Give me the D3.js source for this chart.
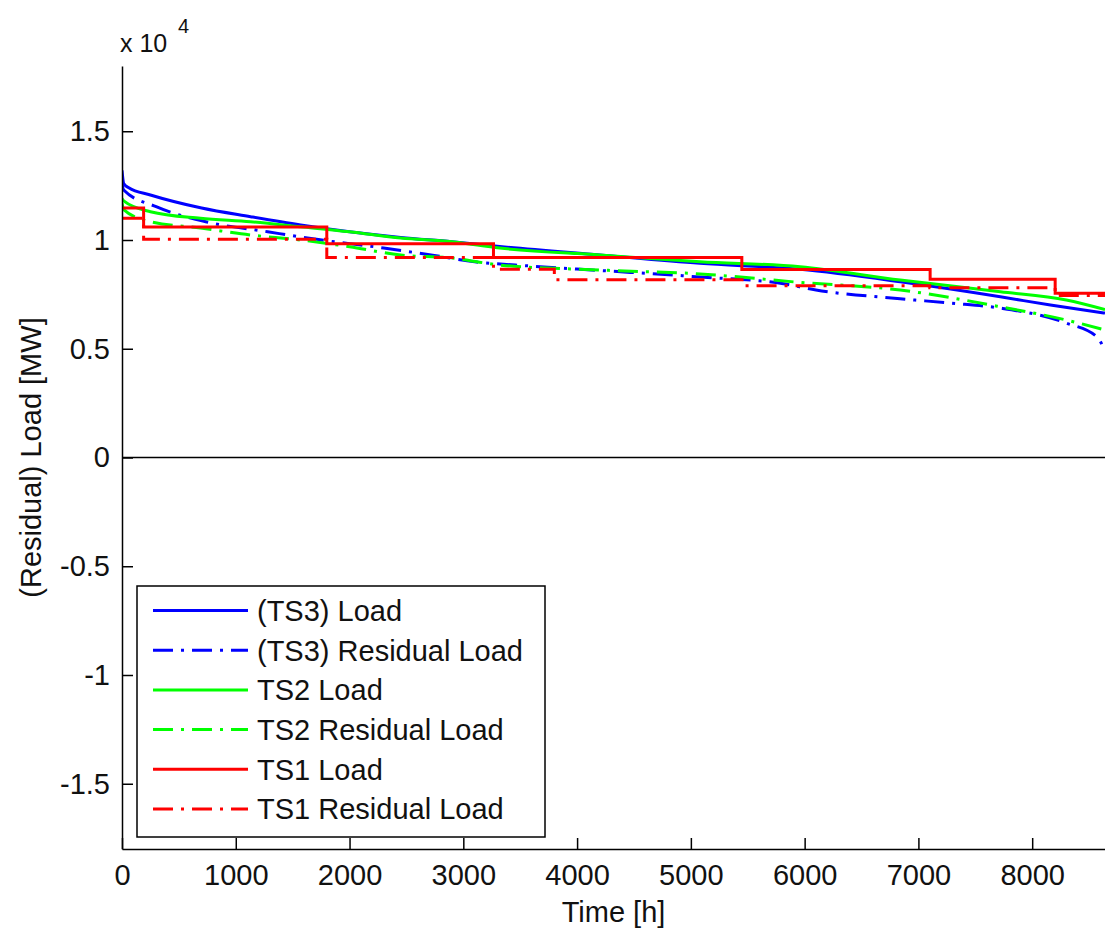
<!DOCTYPE html>
<html>
<head>
<meta charset="utf-8">
<script src="https://cdn.jsdelivr.net/npm/d3@7"></script>
<style>
  body { margin: 0; background: #fff; }
  svg { display: block; font-family: "Liberation Sans", Arial, sans-serif; }
</style>
</head>
<body>
<script>
var WIDTH = 1105,
    HEIGHT = 930;

// load duration curves, hours vs MW
var ts3LoadHours = [0, 15, 60, 250, 700, 1130, 1570, 2000, 2450, 2900, 3320, 4200, 5080, 5960, 6840, 7720, 8160, 8640];
var ts3LoadValues = [13200, 12600, 12400, 12070, 11470, 11070, 10690, 10380, 10120, 9920, 9700, 9310, 8930, 8650, 8080, 7390, 7010, 6640];

var ts3ResHours = [0, 15, 300, 735, 1280, 1630, 2300, 2730, 3100, 3600, 4200, 5080, 5800, 6100, 6840, 7280, 7720, 8300, 8570, 8640];
var ts3ResValues = [12600, 12300, 11530, 10840, 10380, 10090, 9630, 9300, 9000, 8800, 8600, 8300, 8000, 7700, 7300, 7100, 6870, 6180, 5540, 4900];

var ts2LoadHours = [0, 15, 250, 690, 1130, 1570, 2000, 2450, 2900, 3320, 4200, 5080, 5960, 6840, 7720, 8300, 8640];
var ts2LoadValues = [11900, 11800, 11300, 11000, 10840, 10610, 10380, 10090, 9920, 9630, 9310, 9000, 8770, 8160, 7620, 7240, 6800];

var ts2ResHours = [0, 15, 250, 690, 1130, 1570, 2000, 2450, 2900, 3320, 4200, 5080, 5960, 6840, 7720, 8300, 8640];
var ts2ResValues = [11700, 11400, 10840, 10550, 10230, 10000, 9690, 9310, 9170, 8850, 8620, 8440, 8050, 7700, 6930, 6320, 5860];

// TS1 is a step function: start hour of each step and its level
var ts1LoadHours = [0, 190, 1800, 3265, 5448, 7103, 8202, 8640];
var ts1LoadValues = [11470, 10600, 9830, 9200, 8640, 8200, 7550, 7550];

var ts1ResHours = [0, 190, 1800, 3265, 3800, 5450, 7100, 8202, 8640];
var ts1ResValues = [11000, 10030, 9200, 8650, 8170, 7900, 7800, 7450, 7450];

var xTicks = [0, 1000, 2000, 3000, 4000, 5000, 6000, 7000, 8000];
var yTicks = [-15000, -10000, -5000, 0, 5000, 10000, 15000];

var seriesNames = ["(TS3) Load", "(TS3) Residual Load", "TS2 Load", "TS2 Residual Load", "TS1 Load", "TS1 Residual Load"];
var seriesColors = ["#0000ff", "#0000ff", "#00ff00", "#00ff00", "#ff0000", "#ff0000"];

var series = [
  {hours: ts3LoadHours, values: ts3LoadValues, step: false, dash: false},
  {hours: ts3ResHours, values: ts3ResValues, step: false, dash: true},
  {hours: ts2LoadHours, values: ts2LoadValues, step: false, dash: false},
  {hours: ts2ResHours, values: ts2ResValues, step: false, dash: true},
  {hours: ts1LoadHours, values: ts1LoadValues, step: true, dash: false},
  {hours: ts1ResHours, values: ts1ResValues, step: true, dash: true}
];

var DASHDOT = "20,8,3,8";

// plot box (window.top is taken, so own names)
var plotL = 122, plotR = 1105, plotT = 66, plotB = 849;

var x = d3.scaleLinear().domain([0, 8640]).range([plotL, plotR]);
var y = d3.scaleLinear().domain([-18000, 18000]).range([plotB, plotT]);

var svg = d3.select("body").append("svg")
    .attr("width", WIDTH)
    .attr("height", HEIGHT);

svg.append("clipPath").attr("id", "plot")
  .append("rect")
    .attr("x", plotL).attr("y", plotT)
    .attr("width", plotR - plotL).attr("height", plotB - plotT);

// zero line
svg.append("line")
    .attr("x1", plotL).attr("x2", plotR)
    .attr("y1", y(0)).attr("y2", y(0))
    .attr("stroke", "#000")
    .attr("stroke-width", 1.3);

var g = svg.append("g").attr("clip-path", "url(#plot)");

series.forEach(function(s, i){
  var pts = s.hours.map(function(h, j){ return [h, s.values[j]]; });
  var line = d3.line()
    .x(function(d){ return x(d[0]); })
    .y(function(d){ return y(d[1]); })
    .curve(s.step ? d3.curveStepAfter : d3.curveMonotoneX);
  g.append("path")
    .attr("d", line(pts))
    .attr("fill", "none")
    .attr("stroke", seriesColors[i])
    .attr("stroke-width", 3)
    .attr("stroke-dasharray", s.dash ? DASHDOT : null);
});

// axes
var fmt = function(v){ return String(v / 10000); };

var xAxis = svg.append("g")
    .attr("transform", "translate(0," + plotB + ")")
    .call(d3.axisBottom(x).tickValues(xTicks).tickFormat(d3.format("d"))
      .tickSizeInner(-11).tickSizeOuter(0).tickPadding(15));

var yAxis = svg.append("g")
    .attr("transform", "translate(" + plotL + ",0)")
    .call(d3.axisLeft(y).tickValues(yTicks).tickFormat(fmt)
      .tickSizeInner(-11).tickSizeOuter(0).tickPadding(12));

[xAxis, yAxis].forEach(function(a){
  a.select(".domain").attr("stroke", "#000").attr("stroke-width", 1.5);
  a.selectAll(".tick line").attr("stroke", "#000").attr("stroke-width", 1.5);
  a.selectAll(".tick text")
    .attr("fill", "#111")
    .style("font-size", "29px")
    .style("font-family", "'Liberation Sans', Arial, sans-serif");
});

// exponent label
svg.append("text")
    .attr("x", 120).attr("y", 52)
    .attr("fill", "#111")
    .style("font-size", "25px")
    .text("x 10");
svg.append("text")
    .attr("x", 178).attr("y", 33)
    .attr("fill", "#111")
    .style("font-size", "20px")
    .text("4");

// axis titles
svg.append("text")
    .attr("x", (plotL + plotR) / 2).attr("y", 922)
    .attr("text-anchor", "middle")
    .attr("fill", "#111")
    .style("font-size", "29px")
    .text("Time [h]");

svg.append("text")
    .attr("transform", "translate(41," + ((plotT + plotB) / 2) + ") rotate(-90)")
    .attr("text-anchor", "middle")
    .attr("fill", "#111")
    .style("font-size", "29px")
    .text("(Residual) Load [MW]");

// legend
var legend = svg.append("g");
legend.append("rect")
    .attr("x", 137).attr("y", 586)
    .attr("width", 408).attr("height", 251)
    .attr("fill", "#fff")
    .attr("stroke", "#000")
    .attr("stroke-width", 1.5);

seriesNames.forEach(function(name, i){
  var cy = 610.5 + i * 39.7;
  legend.append("line")
    .attr("x1", 153).attr("x2", 248)
    .attr("y1", cy).attr("y2", cy)
    .attr("stroke", seriesColors[i])
    .attr("stroke-width", 3)
    .attr("stroke-dasharray", series[i].dash ? DASHDOT : null);
  legend.append("text")
    .attr("x", 257).attr("y", cy)
    .attr("dy", "0.36em")
    .attr("fill", "#111")
    .style("font-size", "29px")
    .text(name);
});
</script>
</body>
</html>
